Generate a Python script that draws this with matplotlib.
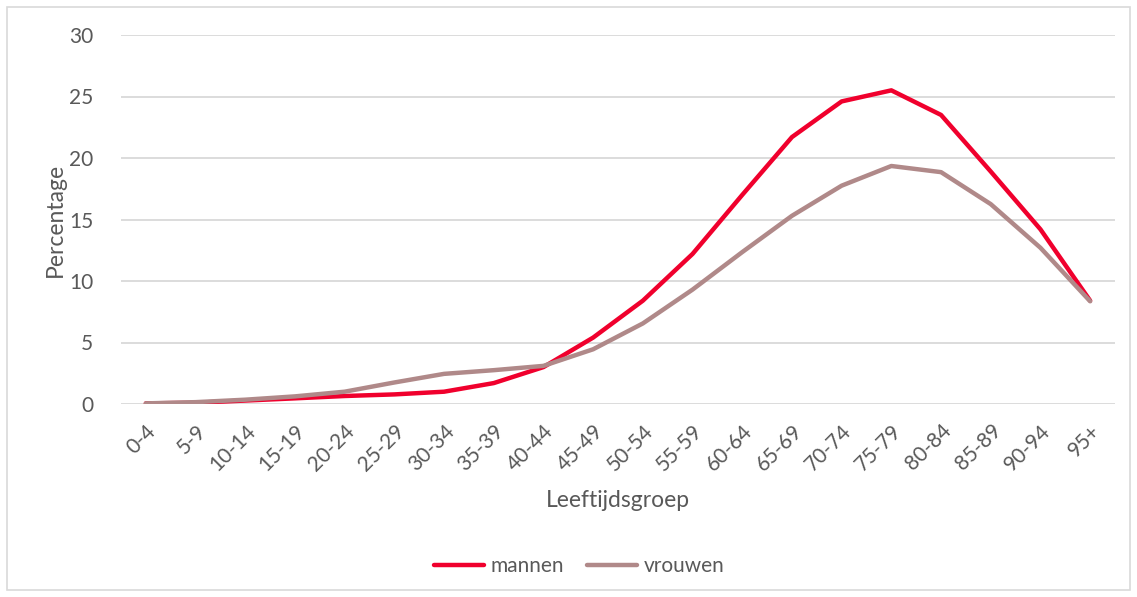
import matplotlib.pyplot as plt
from matplotlib.patches import Rectangle

# leeftijdsgroepen en percentages
groepen = ['0-4', '5-9', '10-14', '15-19', '20-24', '25-29', '30-34', '35-39',
           '40-44', '45-49', '50-54', '55-59', '60-64', '65-69', '70-74',
           '75-79', '80-84', '85-89', '90-94', '95+']
mannen = [0.05, 0.1, 0.28, 0.46, 0.65, 0.78, 1.0, 1.7, 3.0, 5.4, 8.4, 12.2,
          17.0, 21.7, 24.6, 25.5, 23.5, 18.9, 14.2, 8.4]
vrouwen = [0.05, 0.15, 0.35, 0.62, 1.0, 1.75, 2.45, 2.75, 3.1, 4.45, 6.55,
           9.3, 12.35, 15.3, 17.75, 19.35, 18.85, 16.25, 12.7, 8.35]

plt.rcParams['font.family'] = ['Lato', 'DejaVu Sans']
tekst = '#595959'

fig = plt.figure(figsize=(11.37, 5.97), dpi=100)
ax = fig.add_axes([121 / 1137, 1 - 404 / 597, (1115 - 121) / 1137, (404 - 35) / 597])

x = range(len(groepen))
ax.plot(x, mannen, color='#F0002D', lw=3.2, solid_capstyle='round', solid_joinstyle='round', label='mannen')
ax.plot(x, vrouwen, color='#B08989', lw=3.2, solid_capstyle='round', solid_joinstyle='round', label='vrouwen')

ax.set_ylim(0, 30)
ax.set_xlim(-0.5, len(groepen) - 0.5)
ax.set_yticks(range(0, 31, 5))
ax.set_xticks(list(x))
ax.set_xticklabels(groepen, rotation=45, ha='right', rotation_mode='anchor')
ax.tick_params(axis='both', length=0, labelsize=15, labelcolor=tekst)
ax.tick_params(axis='y', pad=20)
ax.tick_params(axis='x', pad=12)
ax.grid(axis='y', color='#D9D9D9', lw=1.3)
ax.set_axisbelow(True)
for s in ax.spines.values():
    s.set_visible(False)

ax.set_ylabel('Percentage', fontsize=16.5, color=tekst, labelpad=2)
ax.set_xlabel('Leeftijdsgroep', fontsize=16.5, color=tekst, labelpad=11)

ax.legend(loc='center', bbox_to_anchor=(0.461, -0.44), ncol=2, frameon=False,
          fontsize=15, labelcolor=tekst, handlelength=2.4, handletextpad=0.3,
          columnspacing=1.1)

# lichtgrijze kader rond de grafiek
fig.patches.append(Rectangle((7 / 1137, 7 / 597), 1 - 14 / 1137, 1 - 14 / 597,
                             transform=fig.transFigure, fill=False,
                             edgecolor='#D9D9D9', lw=1.2))

fig.savefig('out.png', dpi=100)
